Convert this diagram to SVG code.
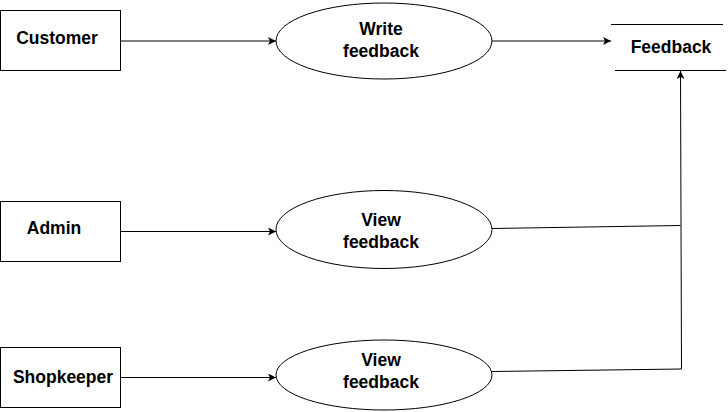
<svg xmlns="http://www.w3.org/2000/svg" width="728" height="412" viewBox="0 0 728 412">
<defs>
<style>
.box{fill:#fff;stroke:#000;stroke-width:1}
.ell{fill:#fff;stroke:#000;stroke-width:1}
.ln{fill:none;stroke:#000;stroke-width:1}
.t{font-family:"Liberation Sans",Arial,sans-serif;font-size:17.5px;font-weight:bold;fill:#000;text-anchor:middle}
</style>
<marker id="arr" markerWidth="10" markerHeight="10" refX="8" refY="4" orient="auto" markerUnits="userSpaceOnUse">
<path d="M0,0 L8,4 L0,8 L2,4 Z" fill="#000"/>
</marker>
</defs>
<rect width="728" height="412" fill="#fff"/>
<g id="connectors">
<line class="ln" x1="120.5" y1="41" x2="276" y2="41" marker-end="url(#arr)"/>
<line class="ln" x1="492" y1="41" x2="611" y2="41" marker-end="url(#arr)"/>
<line class="ln" x1="120.5" y1="231.5" x2="276" y2="231.5" marker-end="url(#arr)"/>
<line class="ln" x1="120.5" y1="377.5" x2="276" y2="377.5" marker-end="url(#arr)"/>
<polyline class="ln" points="492,228.5 680.5,225.5"/>
<polyline class="ln" points="492,371.5 681.5,369 680.5,71" marker-end="url(#arr)"/>
</g>
<g id="customer">
<rect class="box" x="0.5" y="10.5" width="120" height="60"/>
<text class="t" x="57" y="44">Customer</text>
</g>
<g id="admin">
<rect class="box" x="0.5" y="201.5" width="120" height="60"/>
<text class="t" x="54" y="233.5">Admin</text>
</g>
<g id="shopkeeper">
<rect class="box" x="0.5" y="347.5" width="120" height="60"/>
<text class="t" x="63" y="383">Shopkeeper</text>
</g>
<g id="write-feedback">
<ellipse class="ell" cx="384" cy="41" rx="108" ry="38"/>
<text class="t" x="381" y="35">Write</text>
<text class="t" x="381" y="57">feedback</text>
</g>
<g id="view-feedback-1">
<ellipse class="ell" cx="384" cy="229.5" rx="108" ry="39"/>
<text class="t" x="381" y="226">View</text>
<text class="t" x="381" y="248">feedback</text>
</g>
<g id="view-feedback-2">
<ellipse class="ell" cx="384" cy="375" rx="108" ry="35"/>
<text class="t" x="381" y="366">View</text>
<text class="t" x="381" y="388">feedback</text>
</g>
<g id="feedback-store">
<line class="ln" x1="611" y1="24.5" x2="723" y2="24.5"/>
<line class="ln" x1="615" y1="70.5" x2="726" y2="70.5"/>
<text class="t" x="671" y="53">Feedback</text>
</g>
</svg>
